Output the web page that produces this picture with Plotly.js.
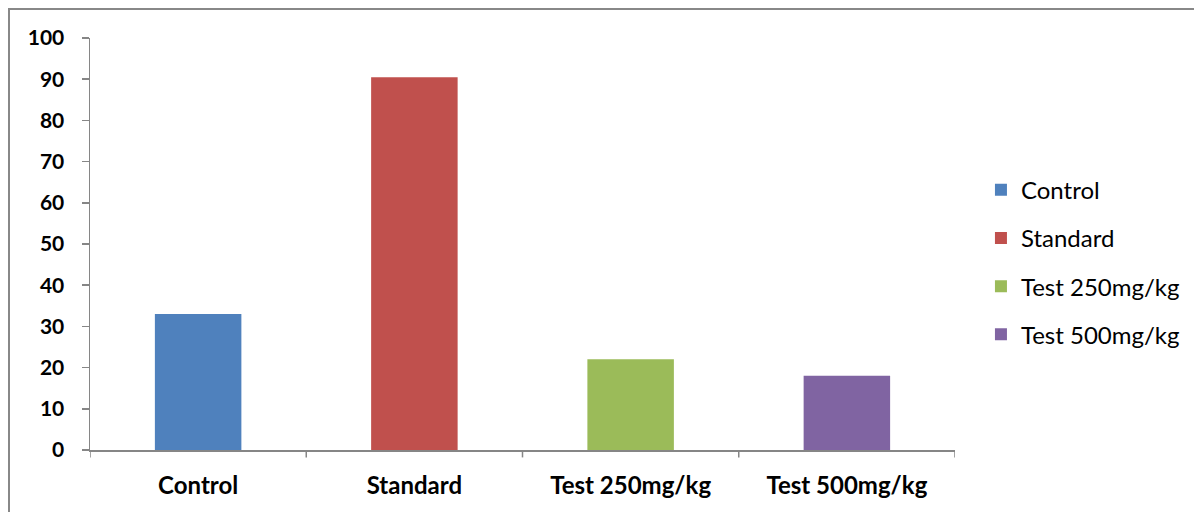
<!DOCTYPE html>
<html>
<head>
<meta charset="utf-8">
<script src="https://cdn.plot.ly/plotly-3.0.1.min.js"></script>
<style>
  html, body { margin: 0; padding: 0; background: #fff; }
  #frame { position: absolute; left: 8px; top: 8px; width: 1200px; height: 520px;
           border-left: 2px solid #888; border-top: 2px solid #888; }
  #chart { position: absolute; left: 0; top: 0; width: 1194px; height: 512px; }
</style>
</head>
<body>
<div id="frame"></div>
<div id="chart"></div>
<script>
const categories = ["Control", "Standard", "Test 250mg/kg", "Test 500mg/kg"];
const values = [33, 90.5, 22, 18];
const colors = ["#4F81BD", "#C0504D", "#9BBB59", "#8064A2"];
const yTicks = [0, 10, 20, 30, 40, 50, 60, 70, 80, 90, 100];

const traces = categories.map((c, i) => ({
  type: "bar",
  name: c,
  x: [c],
  y: [values[i]],
  width: 0.4,
  marker: { color: colors[i] },
  legendgroup: "g" + i,
  hoverinfo: "x+y"
}));

const layout = {
  width: 1194,
  height: 512,
  margin: { l: 90, r: 239, t: 38, b: 62, autoexpand: false },
  paper_bgcolor: "rgba(0,0,0,0)",
  plot_bgcolor: "rgba(0,0,0,0)",
  barmode: "overlay",
  font: { family: "Lato, 'Liberation Sans', sans-serif", color: "#000" },
  xaxis: {
    type: "category",
    categoryorder: "array",
    categoryarray: categories,
    showline: true,
    linecolor: "#868686",
    linewidth: 1.5,
    ticks: "",
    showgrid: false,
    tickfont: { size: 24, family: "Lato, sans-serif", weight: "bold" },
    ticklabelstandoff: 14,
    automargin: false,
    range: [-0.5, 3.5]
  },
  yaxis: {
    range: [0, 100],
    tickvals: yTicks,
    ticktext: yTicks.map(String),
    showline: true,
    linecolor: "#868686",
    linewidth: 1.5,
    ticks: "outside",
    ticklen: 7,
    tickcolor: "#868686",
    tickwidth: 1.5,
    showgrid: false,
    zeroline: false,
    automargin: false,
    tickfont: { size: 21, family: "Lato, sans-serif", weight: "bold" },
    ticklabelstandoff: 13
  },
  shapes: [0, 1, 2, 3, 4].map(k => ({
    type: "line", xref: "x", yref: "paper",
    x0: k - 0.5, x1: k - 0.5, y0: 0, y1: -0.018,
    line: { color: "#868686", width: 1.5 }
  })),
  legend: {
    x: 1.03, xanchor: "left",
    y: 0.456, yanchor: "middle",
    traceorder: "grouped",
    tracegroupgap: 14,
    font: { size: 24, family: "Lato, sans-serif" },
    bgcolor: "rgba(0,0,0,0)"
  },
  showlegend: true
};

Plotly.newPlot("chart", traces, layout, { displayModeBar: false, staticPlot: true });
</script>
</body>
</html>
